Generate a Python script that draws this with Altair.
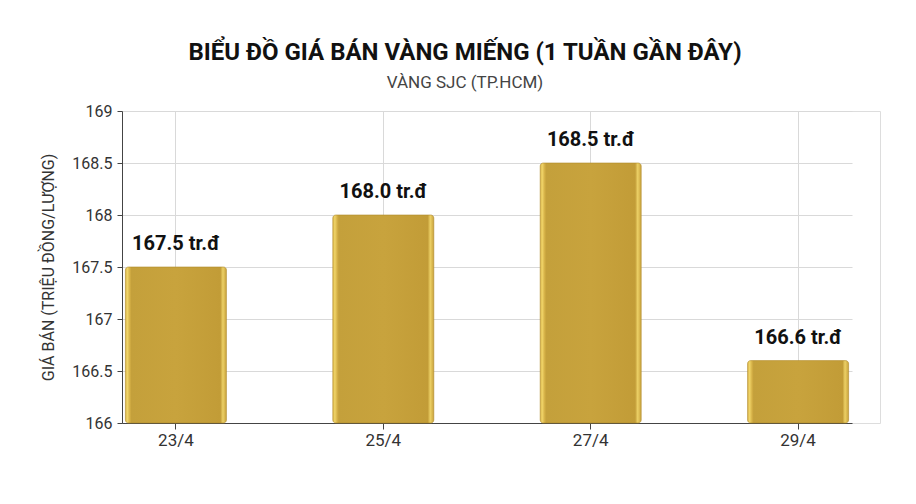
import altair as alt
import pandas as pd

dates = ["23/4", "25/4", "27/4", "29/4"]
prices = [167.5, 168.0, 168.5, 166.6]
labels = ["167.5 tr.đ", "168.0 tr.đ", "168.5 tr.đ", "166.6 tr.đ"]
y_ticks = [166, 166.5, 167, 167.5, 168, 168.5, 169]

df = pd.DataFrame({"date": dates, "price": prices, "label": labels})

FONT = "Roboto"

gold = alt.Gradient(
    gradient="linear",
    x1=0, x2=1, y1=0, y2=0,
    stops=[
        alt.GradientStop(offset=0.0, color="#d9b548"),
        alt.GradientStop(offset=0.02, color="#f0d468"),
        alt.GradientStop(offset=0.045, color="#d4af45"),
        alt.GradientStop(offset=0.06, color="#c4a03b"),
        alt.GradientStop(offset=0.5, color="#c8a33d"),
        alt.GradientStop(offset=0.94, color="#c29c37"),
        alt.GradientStop(offset=0.965, color="#ecd066"),
        alt.GradientStop(offset=1.0, color="#c9a33c"),
    ],
)

x_enc = alt.X(
    "date:N",
    sort=dates,
    title=None,
    scale=alt.Scale(paddingInner=0.513, paddingOuter=0.0165, range=[0, 730]),
    axis=alt.Axis(
        bandPosition=0.5,
        grid=True,
        gridColor="#d9d9d9",
        gridWidth=1,
        domainColor="#444444",
        domainWidth=1,
        tickColor="#444444",
        tickSize=6,
        labelAngle=0,
        labelFont=FONT,
        labelFontSize=17,
        labelColor="#333333",
        labelPadding=3,
    ),
)

y_scale = alt.Scale(domain=[166, 169], zero=False, nice=False)
y_enc = alt.Y(
    "price:Q",
    scale=y_scale,
    title="GIÁ BÁN (TRIỆU ĐỒNG/LƯỢNG)",
    axis=alt.Axis(
        values=y_ticks,
        format="~g",
        grid=True,
        gridColor="#d9d9d9",
        domainColor="#444444",
        tickColor="#444444",
        tickSize=5,
        labelFont=FONT,
        labelFontSize=16,
        labelColor="#333333",
        labelPadding=5,
        titleFont=FONT,
        titleFontSize=16,
        titleFontWeight="normal",
        titleColor="#333333",
        titleX=-74,
        titleY=156,
        titleAlign="center",
        titleBaseline="middle",
        titleAngle=270,
    ),
)

bars = alt.Chart(df).mark_bar(
    color=gold, cornerRadius=3, stroke="#b08a2a", strokeWidth=0.6, size=101
).encode(x=x_enc, y=y_enc, y2=alt.datum(166))

text = alt.Chart(df).mark_text(
    font=FONT, fontSize=20, fontWeight="bold", color="#111111",
    baseline="bottom", dy=-13,
).encode(x=alt.X("date:N", sort=dates), y=alt.Y("price:Q", scale=y_scale), text="label:N")

chart = (
    alt.layer(bars, text)
    .properties(
        width=758,
        height=312,
        title=alt.TitleParams(
            text="BIỂU ĐỒ GIÁ BÁN VÀNG MIẾNG (1 TUẦN GẦN ĐÂY)",
            subtitle="VÀNG SJC (TP.HCM)",
            font=FONT,
            fontSize=24,
            fontWeight="bold",
            color="#111111",
            subtitleFont=FONT,
            subtitleFontSize=17,
            subtitleColor="#444444",
            subtitlePadding=10,
            anchor="middle",
            offset=12,
            dx=-36,
        ),
        autosize=alt.AutoSizeParams(type="none"),
        padding={"left": 114, "top": 103, "right": 28, "bottom": 70},
    )
    .configure_view(stroke=None)
    .configure(background="white")
)

chart.save("out.html", embed_options={"renderer": "svg", "actions": False})
